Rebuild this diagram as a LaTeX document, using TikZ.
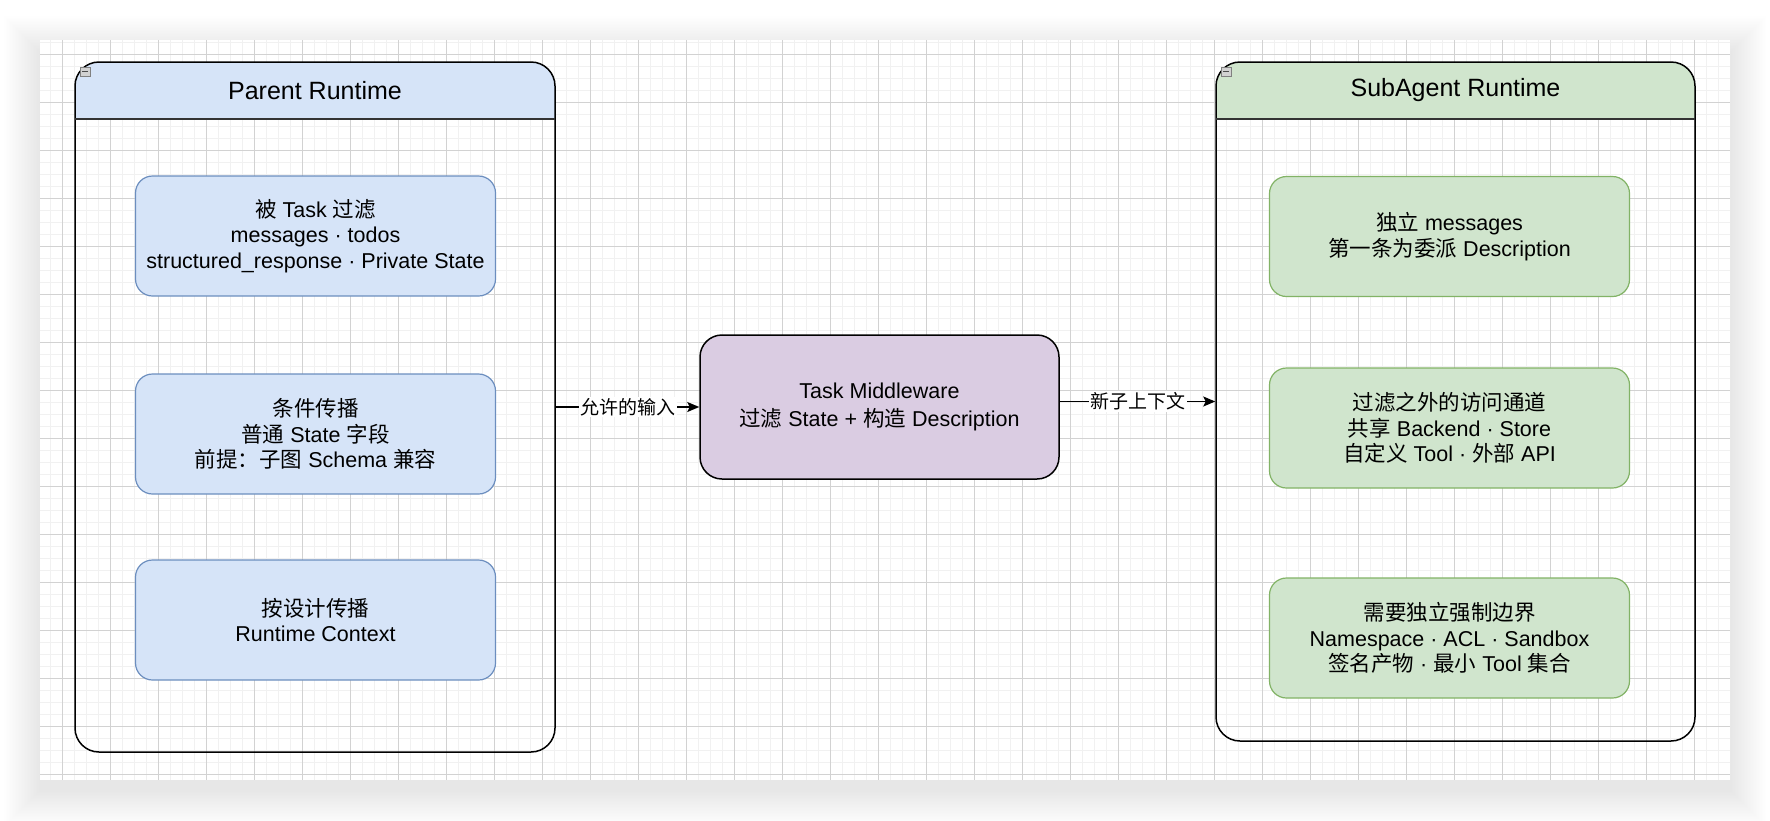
\documentclass[tikz,border=0pt]{standalone}
\usepackage{fontspec}
\setmainfont{Liberation Sans}
\newfontfamily\zhfont{Noto Sans CJK SC}
\newcommand{\zh}[1]{{\zhfont #1}}
\usetikzlibrary{arrows.meta}

\definecolor{bluefill}{HTML}{D6E4F8}
\definecolor{bluedraw}{HTML}{6C8EBF}
\definecolor{greenfill}{HTML}{D0E5CD}
\definecolor{greendraw}{HTML}{82B366}
\definecolor{violetfill}{HTML}{DACCE2}
\definecolor{gridminor}{HTML}{F1F1F1}
\definecolor{gridmajor}{HTML}{D2D2D2}

\tikzset{
  contbox/.style={draw=black, line width=1.5pt, rounded corners=24pt, inner sep=0pt,
    minimum width=480pt},
  itembox/.style={rounded corners=17pt, line width=1.2pt, align=center, inner sep=0pt,
    minimum width=360pt, minimum height=120pt, font=\fontsize{21.5}{25.5}\selectfont},
  bluebox/.style={itembox, fill=bluefill, draw=bluedraw},
  greenbox/.style={itembox, fill=greenfill, draw=greendraw},
  titletext/.style={font=\fontsize{25}{30}\selectfont},
  flowlabel/.style={fill=white, inner sep=1.5pt, font=\zhfont\fontsize{19}{22}\selectfont},
  flow/.style={line width=1.5pt, -{Stealth[length=12pt, width=10pt, inset=2.5pt]}},
}

\begin{document}
\begin{tikzpicture}[x=1pt, y=-1pt]
        \useasboundingbox (0,0) rectangle (1770,820);
        \fill[white] (0,0) rectangle (1770,820);

        % Ombra e foglio
        \foreach \i in {1,...,24}
          \fill[black, opacity=0.005] (40-1.5*\i,40-1.5*\i+12) rectangle (1730+1.5*\i,780+1.5*\i+10);
        \fill[white] (40,40) rectangle (1730,780);

        % Griglia
        \begin{scope}
          \clip (40,40) rectangle (1730,780);
          \foreach \x in {38.4,50.4,...,1740} \draw[gridminor, line width=1.2pt] (\x,40) -- (\x,780);
          \foreach \y in {42.3,54.3,...,790} \draw[gridminor, line width=1.2pt] (40,\y) -- (1730,\y);
          \foreach \x in {62.4,110.4,...,1740} \draw[gridmajor, line width=1pt] (\x,40) -- (\x,780);
          \foreach \y in {54.3,102.3,...,790} \draw[gridmajor, line width=1pt] (40,\y) -- (1730,\y);
        \end{scope}

        % Parent Runtime
        \fill[bluefill] (75,119) [rounded corners=24pt] -- (75,62) -- (555,62) [sharp corners] -- (555,119) -- cycle;
        \node[contbox, minimum height=690pt] (parent) at (315,407) {};
        \draw[black!80, line width=1.2pt] (75,119) -- (555,119);
        \draw[gray, fill=gray!35, line width=0.6pt] (80,67) rectangle (90,76);
        \draw[black!70, line width=1pt] (82,71.5) -- (88,71.5);
        \node[titletext] (parenttitle) at (315,90.5) {Parent Runtime};

        \node[bluebox] (filtered) at (315.5,236) {\zh{被} Task \zh{过滤}\\messages · todos\\structured\_response · Private State};
        \node[bluebox] (conditional) at (315.5,434) {\zh{条件传播}\\\zh{普通} State \zh{字段}\\\zh{前提：子图} Schema \zh{兼容}};
        \node[bluebox] (bydesign) at (315.5,620) {\zh{按设计传播}\\Runtime Context};

        % Task Middleware
        \node[draw=black, fill=violetfill, line width=1.5pt, rounded corners=22pt, align=center,
          minimum width=359pt, minimum height=144pt, inner sep=0pt,
          font=\fontsize{21.5}{28}\selectfont] (middleware) at (879.5,407)
          {Task Middleware\\\zh{过滤} State + \zh{构造} Description};

        % SubAgent Runtime
        \fill[greenfill] (1216,119) [rounded corners=24pt] -- (1216,62) -- (1695,62) [sharp corners] -- (1695,119) -- cycle;
        \node[contbox, minimum width=479pt, minimum height=679pt] (subagent) at (1455.5,401.5) {};
        \draw[black!80, line width=1.2pt] (1216,119) -- (1695,119);
        \draw[gray, fill=gray!35, line width=0.6pt] (1221,67) rectangle (1231,76);
        \draw[black!70, line width=1pt] (1223,71.5) -- (1229,71.5);
        \node[titletext] (subtitle) at (1455.5,90.5) {SubAgent Runtime};

        \node[greenbox] (ownmsgs) at (1449.5,236.5) {\zh{独立} messages\\\zh{第一条为委派} Description};
        \node[greenbox] (sidechannel) at (1449.5,428) {\zh{过滤之外的访问通道}\\\zh{共享} Backend · Store\\\zh{自定义} Tool · \zh{外部} API};
        \node[greenbox] (boundary) at (1449.5,638) {\zh{需要独立强制边界}\\Namespace · ACL · Sandbox\\\zh{签名产物} · \zh{最小} Tool \zh{集合}};

        % Frecce
        \draw[flow] (parent.east) -- node[flowlabel] {允许的输入} (middleware.west);
        \draw[flow] (middleware.east |- subagent.west) -- node[flowlabel] {新子上下文} (subagent.west);
    \end{tikzpicture}
\end{document}
